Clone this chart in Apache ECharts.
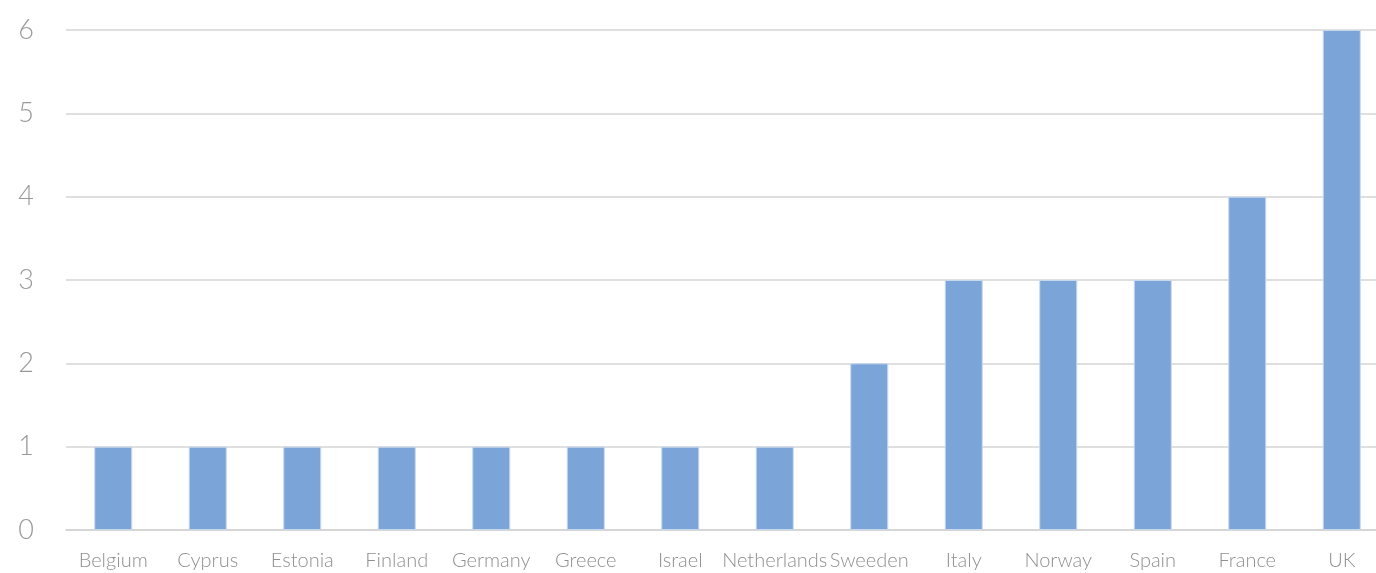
<!DOCTYPE html>
<html>
<head>
<meta charset="utf-8">
<script src="https://cdn.jsdelivr.net/npm/echarts@6/dist/echarts.min.js"></script>
<style>
html,body{margin:0;padding:0;background:#fff;overflow:hidden;width:1376px;height:573px;}
#chart{width:1389px;height:573px;}
</style>
</head>
<body>
<div id="chart"></div>
<script>
const categories = ["Belgium","Cyprus","Estonia","Finland","Germany","Greece","Israel","Netherlands","Sweeden","Italy","Norway","Spain","France","UK"];
const values = [1,1,1,1,1,1,1,1,2,3,3,3,4,6];
const yTicks = [0,1,2,3,4,5,6];

const chart = echarts.init(document.getElementById('chart'));
chart.setOption({
  animation: false,
  grid: { left: 66, top: 30, bottom: 43, right: 0, containLabel: false, outerBoundsMode: 'none' },
  xAxis: {
    type: 'category',
    data: categories,
    axisLine: { show: true, lineStyle: { color: '#d4d4d4', width: 1.5 } },
    axisTick: { show: false },
    axisLabel: { color: '#8f8f8f', fontFamily: 'Lato', fontSize: 20, fontWeight: 300, margin: 21, interval: 0 }
  },
  yAxis: {
    type: 'value',
    min: yTicks[0],
    max: yTicks[yTicks.length - 1],
    interval: 1,
    axisLine: { show: false },
    axisTick: { show: false },
    splitLine: { lineStyle: { color: '#d4d4d4', width: 1.5 } },
    axisLabel: { color: '#9a9a9a', fontFamily: 'Lato', fontSize: 27, fontWeight: 300, margin: 32, align: 'right' }
  },
  series: [{
    type: 'bar',
    data: values,
    barWidth: 38,
    itemStyle: { color: '#7BA4D8', borderColor: '#c7d8ee', borderWidth: 1 }
  }]
});
</script>
</body>
</html>
